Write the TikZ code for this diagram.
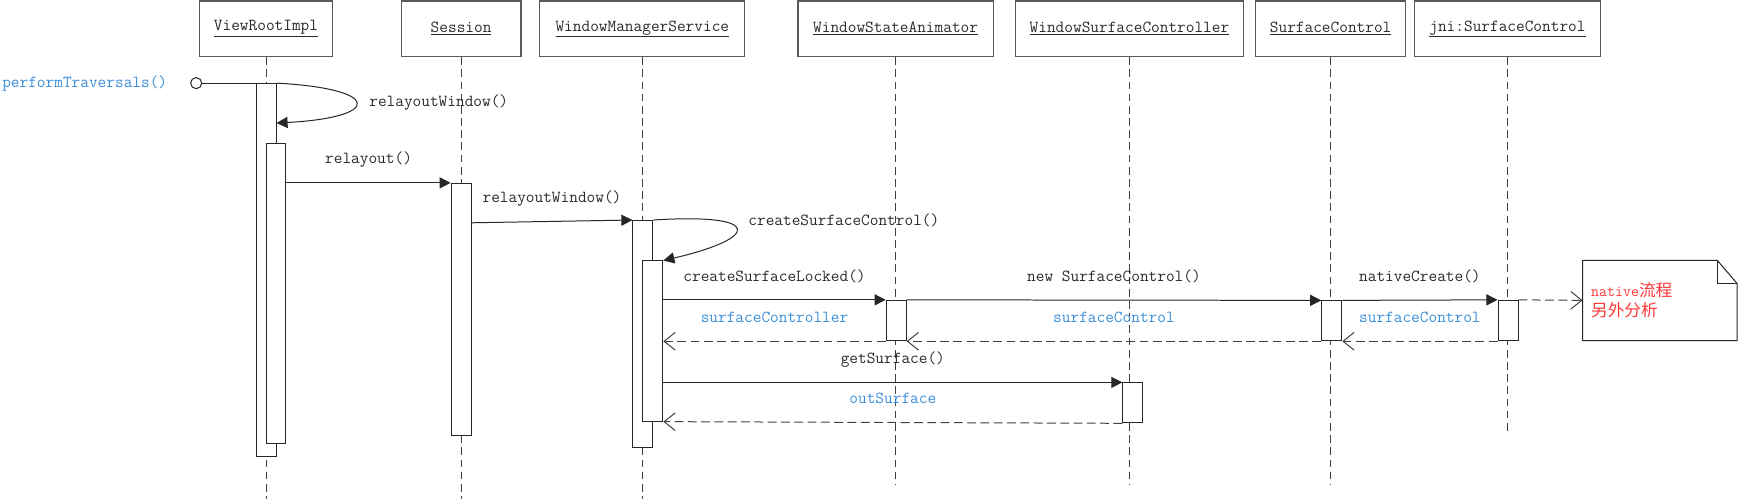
\documentclass[tikz,border=0pt]{standalone}
\usepackage{fontspec}
\usetikzlibrary{arrows.meta}

\newfontfamily\cjkfont{Noto Sans CJK SC}
\newcommand{\diagfont}{\ttfamily\fontsize{15.2}{18}\selectfont}

\definecolor{textgray}{HTML}{2A2A2A}
\definecolor{retblue}{HTML}{3A8EDA}
\definecolor{notered}{HTML}{FF3535}
\definecolor{boxgray}{HTML}{5A5A5A}

\tikzset{
	headbox/.style={draw=boxgray, line width=1.1pt, minimum height=50pt, inner sep=0pt, text=textgray},
	lifeline/.style={draw=black!75, line width=0.9pt, dash pattern=on 7pt off 4pt},
	actbar/.style={draw=black!85, fill=white, line width=0.9pt, minimum width=18pt, inner sep=0pt, anchor=north},
	msg/.style={draw=black!85, line width=0.9pt, -{Triangle[length=10pt,width=10pt]}},
	ret/.style={draw=black!75, line width=0.9pt, dash pattern=on 8pt off 4pt, -{Straight Barb[length=10pt,width=16pt]}},
	lbl/.style={midway, yshift=21pt, text=textgray},
	retlbl/.style={midway, yshift=22pt, text=retblue},
}

\begin{document}
\begin{tikzpicture}[x=1pt, y=-1pt, font=\diagfont]
		\useasboundingbox (0,0) rectangle (1568,450);

		% Define coordinates
		\coordinate (bottom) at (0,450);
		\coordinate (short) at (0,438);
		\coordinate (jniend) at (0,392);

		% Draw object boxes
		\foreach \name/\x/\w/\txt in {vri/240/120/ViewRootImpl, ses/416/108/Session,
			wms/579.5/185/WindowManagerService, wsa/808/176/WindowStateAnimator,
			wsc/1019/206/WindowSurfaceController, sc/1200.5/135/SurfaceControl,
			jni/1360/168/jni:SurfaceControl}
			\node[headbox, minimum width=\w pt] (\name) at (\x,26) {\underline{\txt}};

		% Draw lifelines
		\foreach \name/\e in {vri/bottom, ses/bottom, wms/bottom, wsa/short, wsc/short, sc/short, jni/jniend}
			\draw[lifeline] (\name.south) -- (\name.south |- \e);

		% Draw activation bars
		\node[actbar, minimum height=336pt] (vriA) at (240,75) {};
		\node[actbar, minimum height=271pt] (vriB) at (249,129) {};
		\node[actbar, minimum height=227pt] (sesA) at (416,165) {};
		\node[actbar, minimum height=205pt] (wmsA) at (580,198.5) {};
		\node[actbar, minimum height=144.5pt] (wmsB) at (589,235) {};
		\node[actbar, minimum height=36.5pt] (wsaA) at (808.5,270.5) {};
		\node[actbar, minimum height=36pt] (scA) at (1201.5,271) {};
		\node[actbar, minimum height=36.5pt] (jniA) at (1360.5,270.5) {};
		\node[actbar, minimum height=36pt] (wscA) at (1022,345) {};

		% Entry point
		\node[draw=black!85, line width=0.9pt, circle, inner sep=0pt, minimum size=10pt] (start) at (177,75) {};
		\draw[black!85, line width=0.9pt] (start) -- (vriA.north west);
		\node[anchor=east, inner sep=0pt, text=retblue] (ptLbl) at (151,75) {performTraversals()};

		% Self calls
		\draw[msg] (vriA.north east) .. controls (345,80) and (345,106) .. ([yshift=-36pt]vriA.north east);
		\node[anchor=west, inner sep=0pt, text=textgray] (rwLbl) at (333,92.6) {relayoutWindow()};
		\draw[msg] (wmsA.north east) .. controls (690,192) and (685,215) .. (wmsB.north east);
		\node[anchor=west, inner sep=0pt, text=textgray] (cscLbl) at (675,198.5) {createSurfaceControl()};

		% Calls
		\draw[msg] (vriB.east |- sesA.north) -- (sesA.north west) node[lbl] {relayout()};
		\draw[msg] ([yshift=-36pt]sesA.north east) -- (wmsA.north west) node[lbl] {relayoutWindow()};
		\draw[msg] (wmsB.east |- wsaA.north) -- (wsaA.north west) node[lbl] {createSurfaceLocked()};
		\draw[msg] (wsaA.north east) -- (scA.north west) node[lbl] {new SurfaceControl()};
		\draw[msg] (scA.north east) -- (jniA.north west) node[lbl] {nativeCreate()};
		\draw[msg] (wmsB.east |- wscA.north) -- (wscA.north west) node[lbl] {getSurface()};

		% Returns
		\draw[ret] (jniA.south west) -- (scA.south east) node[retlbl] {surfaceControl};
		\draw[ret] (scA.south west) -- (wsaA.south east) node[retlbl] {surfaceControl};
		\draw[ret] (wsaA.south west) -- (wmsB.east |- wsaA.south) node[retlbl] {surfaceController};
		\draw[ret] (wscA.south west) -- (wmsB.south east) node[retlbl] {outSurface};

		% Note
		\node[minimum width=139pt, minimum height=72pt, inner xsep=7.5pt, inner ysep=0pt,
			text width=124pt, align=left, text=notered] (note) at (1497.5,271)
			{{\ttfamily\fontsize{14}{19.5}\selectfont native}{\cjkfont\fontsize{15}{19.5}\selectfont 流程}\\
			{\cjkfont\fontsize{15}{19.5}\selectfont 另外分析}};
		\draw[black!85, line width=0.9pt] (note.north west) -- ([xshift=-18pt]note.north east)
			-- ([yshift=-21pt]note.north east) -- (note.south east) -- (note.south west) -- cycle;
		\draw[black!85, line width=0.9pt] ([xshift=-18pt]note.north east) |- ([yshift=-21pt]note.north east);
		\draw[ret] (jniA.north east) -- (note.west);
	\end{tikzpicture}
\end{document}
